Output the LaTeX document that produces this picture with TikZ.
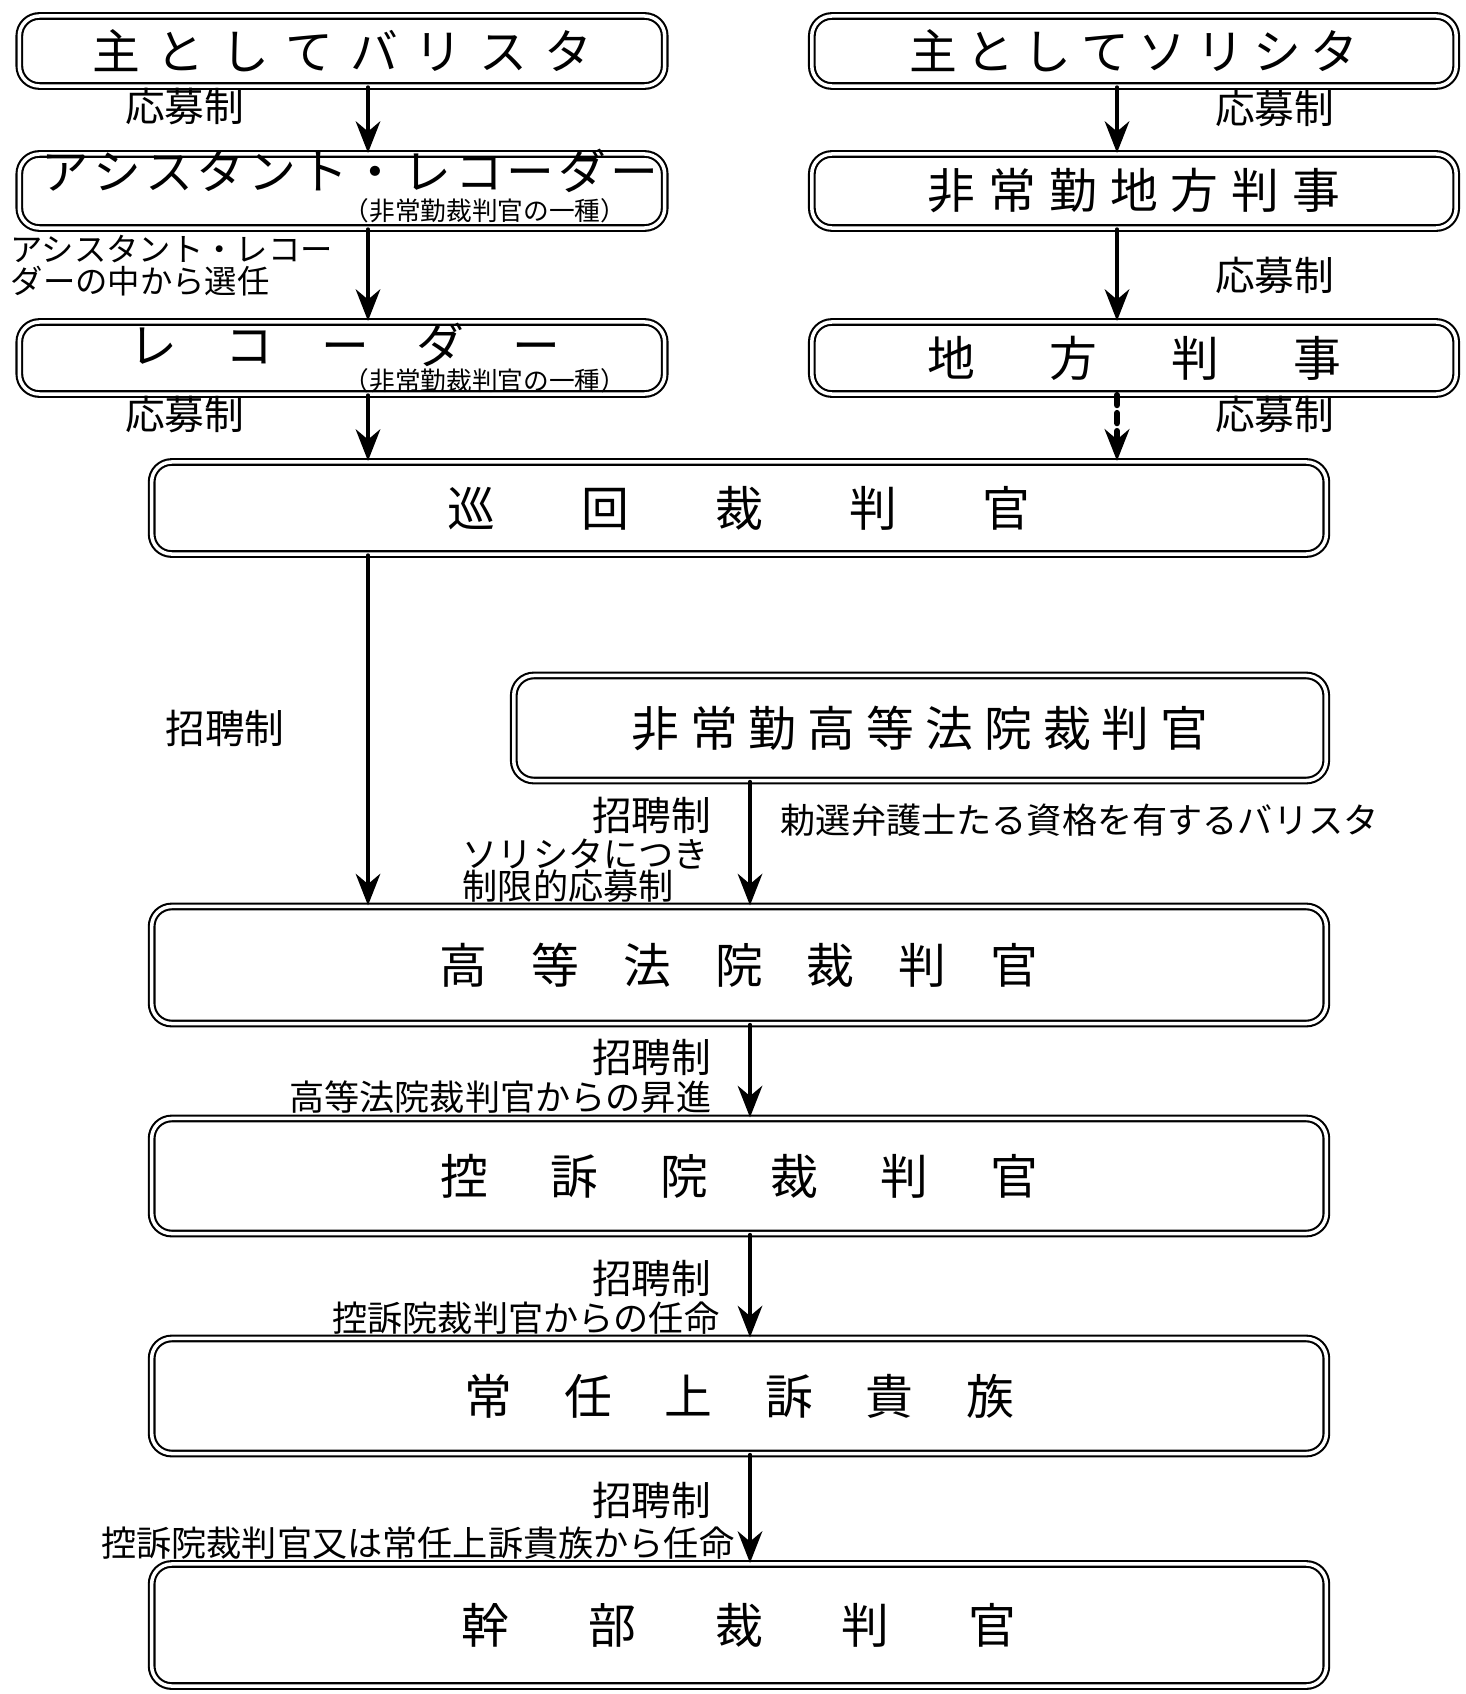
\documentclass[tikz,border=0pt]{standalone}
\usepackage{fontspec}
\setmainfont{Noto Sans CJK JP}
\usetikzlibrary{arrows.meta}
\newcommand{\spaced}[2]{\foreach[count=\k] \chr in {#2}{\ifnum\k>1\hspace{#1}\fi\chr}}
\begin{document}
\begin{tikzpicture}[x=0.01cm, y=-0.01cm, line join=round, line cap=round,
	box/.style={draw, double, line width=0.6pt, double distance=1pt, rounded corners=0.2cm, inner sep=0pt, font=\fontsize{13.6}{16}\selectfont},
	head/.style={font=\fontsize{13.6}{16}\selectfont, inner sep=0pt},
	lbl/.style={font=\fontsize{11.3}{13}\selectfont, inner sep=0pt},
	note/.style={font=\fontsize{10}{12}\selectfont, inner sep=0pt},
	sub/.style={font=\fontsize{7.3}{9}\selectfont, inner sep=0pt},
	arr/.style={-{Stealth[length=9pt,width=7pt]}, line width=1pt}]
	\useasboundingbox (0,0) rectangle (1465,1694);
	\path
	(368,0) coordinate (colL)
	(750,0) coordinate (colM)
	(1117,0) coordinate (colR);
	
	% left column
	\node[box, minimum width=6.45cm, minimum height=0.70cm] (bar) at (342,51) {\spaced{0.35em}{主,と,し,て,バ,リ,ス,タ}};
	\node[box, minimum width=6.45cm, minimum height=0.74cm] (asst) at (342,191) {};
	\node[head] (asstT) at (350,171) {\spaced{0.08em}{ア,シ,ス,タ,ン,ト,・,レ,コ,ー,ダ,ー}};
	\node[sub] (asstS) at (485,211) {（非常勤裁判官の一種）};
	\node[box, minimum width=6.45cm, minimum height=0.72cm] (rec) at (342,358) {};
	\node[head] (recT) at (345,345) {\spaced{1em}{レ,コ,ー,ダ,ー}};
	\node[sub] (recS) at (485,381) {（非常勤裁判官の一種）};
	
	% right column
	\node[box, minimum width=6.44cm, minimum height=0.70cm] (sol) at (1134,51) {\spaced{0.2em}{主,と,し,て,ソ,リ,シ,タ}};
	\node[box, minimum width=6.44cm, minimum height=0.74cm] (depdist) at (1134,191) {\spaced{0.27em}{非,常,勤,地,方,判,事}};
	\node[box, minimum width=6.44cm, minimum height=0.72cm] (dist) at (1134,358) {\spaced{1.55em}{地,方,判,事}};
	
	% main chain
	\node[box, minimum width=11.74cm, minimum height=0.92cm] (circ) at (739,508) {\spaced{1.8em}{巡,回,裁,判,官}};
	\node[box, minimum width=8.12cm, minimum height=1.05cm] (dephc) at (920,728) {\spaced{0.23em}{非,常,勤,高,等,法,院,裁,判,官}};
	\node[box, minimum width=11.74cm, minimum height=1.17cm] (hc) at (739,965) {\spaced{0.92em}{高,等,法,院,裁,判,官}};
	\node[box, minimum width=11.74cm, minimum height=1.15cm] (ca) at (739,1176) {\spaced{1.3em}{控,訴,院,裁,判,官}};
	\node[box, minimum width=11.74cm, minimum height=1.15cm] (lords) at (739,1396) {\spaced{1.1em}{常,任,上,訴,貴,族}};
	\node[box, minimum width=11.74cm, minimum height=1.22cm] (heads) at (739,1625) {\spaced{1.65em}{幹,部,裁,判,官}};
	
	% connectors
	\draw[arr] (bar.south -| colL) -- (asst.north -| colL);
	\draw[arr] (asst.south -| colL) -- (rec.north -| colL);
	\draw[arr] (rec.south -| colL) -- (circ.north -| colL);
	\draw[arr] (sol.south -| colR) -- (depdist.north -| colR);
	\draw[arr] (depdist.south -| colR) -- (dist.north -| colR);
	\draw[arr, line width=1.8pt, dash pattern=on 0.1cm off 0.08cm] (dist.south -| colR) -- (circ.north -| colR);
	\draw[arr] (circ.south -| colL) -- (hc.north -| colL);
	\draw[arr] (dephc.south -| colM) -- (hc.north -| colM);
	\draw[arr] (hc.south -| colM) -- (ca.north -| colM);
	\draw[arr] (ca.south -| colM) -- (lords.north -| colM);
	\draw[arr] (lords.south -| colM) -- (heads.north -| colM);
	
	% labels
	\node[lbl, anchor=east] (apL1) at (245,107) {応募制};
	\node[note, anchor=west, font=\fontsize{9.2}{11}\selectfont] (selA) at (10,249) {アシスタント・レコー};
	\node[note, anchor=west, font=\fontsize{9.2}{11}\selectfont] (selB) at (10,281) {ダーの中から選任};
	\node[lbl, anchor=east] (apL2) at (245,414) {応募制};
	\node[lbl, anchor=east] (apR1) at (1335,108) {応募制};
	\node[lbl, anchor=east] (apR2) at (1335,275) {応募制};
	\node[lbl, anchor=east] (apR3) at (1335,414) {応募制};
	\node[lbl] (invL) at (225,728) {招聘制};
	\node[lbl, anchor=east] (inv1) at (712,815) {招聘制};
	\node[note, anchor=west] (qc) at (780,820) {勅選弁護士たる資格を有するバリスタ};
	\node[note, anchor=west] (solA) at (462,854) {ソリシタにつき};
	\node[note, anchor=west] (solB) at (462,886) {制限的応募制};
	\node[lbl, anchor=east] (inv2) at (712,1057) {招聘制};
	\node[note, anchor=east] (prom) at (712,1097) {高等法院裁判官からの昇進};
	\node[lbl, anchor=east] (inv3) at (712,1278) {招聘制};
	\node[note, anchor=east] (appt) at (720,1318) {控訴院裁判官からの任命};
	\node[lbl, anchor=east] (inv4) at (712,1500) {招聘制};
	\node[note, anchor=east] (appt2) at (735,1543) {控訴院裁判官又は常任上訴貴族から任命};
	
\end{tikzpicture}
\end{document}
